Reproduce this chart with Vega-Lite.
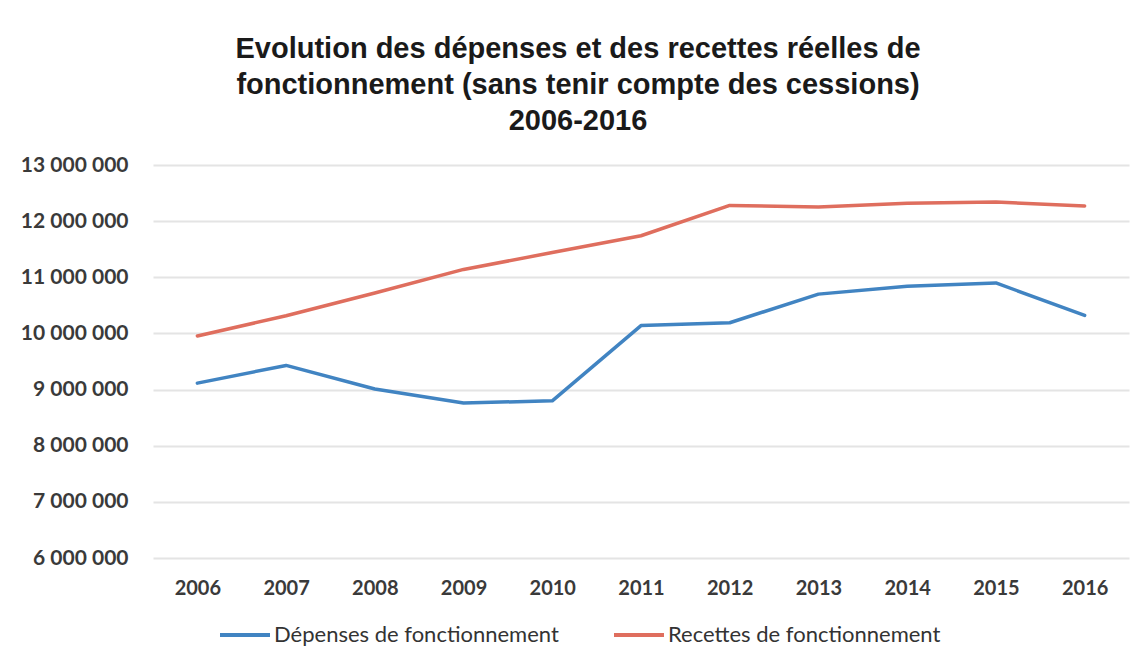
{
  "$schema": "https://vega.github.io/schema/vega-lite/v6.json",
  "autosize": {"type": "none"},
  "padding": {"left": 153, "top": 165, "right": 15, "bottom": 107},
  "width": 976,
  "height": 393,
  "background": "white",
  "title": {
    "text": ["Evolution des dépenses et des recettes réelles de", "fonctionnement (sans tenir compte des cessions)", "2006-2016"],
    "font": "Liberation Sans",
    "fontSize": 29,
    "fontWeight": "bold",
    "color": "#1a1a1a",
    "lineHeight": 36,
    "anchor": "middle",
    "dx": -63,
    "offset": 18
  },
  "data": {
    "values": [
      {"annee": "2006", "serie": "Dépenses de fonctionnement", "montant": 9115000},
      {"annee": "2007", "serie": "Dépenses de fonctionnement", "montant": 9430000},
      {"annee": "2008", "serie": "Dépenses de fonctionnement", "montant": 9010000},
      {"annee": "2009", "serie": "Dépenses de fonctionnement", "montant": 8760000},
      {"annee": "2010", "serie": "Dépenses de fonctionnement", "montant": 8800000},
      {"annee": "2011", "serie": "Dépenses de fonctionnement", "montant": 10140000},
      {"annee": "2012", "serie": "Dépenses de fonctionnement", "montant": 10190000},
      {"annee": "2013", "serie": "Dépenses de fonctionnement", "montant": 10700000},
      {"annee": "2014", "serie": "Dépenses de fonctionnement", "montant": 10840000},
      {"annee": "2015", "serie": "Dépenses de fonctionnement", "montant": 10900000},
      {"annee": "2016", "serie": "Dépenses de fonctionnement", "montant": 10320000},
      {"annee": "2006", "serie": "Recettes de fonctionnement", "montant": 9955000},
      {"annee": "2007", "serie": "Recettes de fonctionnement", "montant": 10315000},
      {"annee": "2008", "serie": "Recettes de fonctionnement", "montant": 10720000},
      {"annee": "2009", "serie": "Recettes de fonctionnement", "montant": 11140000},
      {"annee": "2010", "serie": "Recettes de fonctionnement", "montant": 11440000},
      {"annee": "2011", "serie": "Recettes de fonctionnement", "montant": 11740000},
      {"annee": "2012", "serie": "Recettes de fonctionnement", "montant": 12280000},
      {"annee": "2013", "serie": "Recettes de fonctionnement", "montant": 12250000},
      {"annee": "2014", "serie": "Recettes de fonctionnement", "montant": 12320000},
      {"annee": "2015", "serie": "Recettes de fonctionnement", "montant": 12340000},
      {"annee": "2016", "serie": "Recettes de fonctionnement", "montant": 12270000}
    ]
  },
  "mark": {"type": "line", "strokeWidth": 3.5, "strokeJoin": "round", "strokeCap": "round"},
  "encoding": {
    "x": {
      "field": "annee",
      "type": "ordinal",
      "scale": {"type": "point", "padding": 0.5},
      "axis": {
        "title": null,
        "labelAngle": 0,
        "domain": false,
        "ticks": false,
        "grid": false,
        "labelFont": "Lato",
        "labelFontSize": 20,
        "labelFontWeight": "bold",
        "labelColor": "#3a3a3a",
        "labelPadding": 20
      }
    },
    "y": {
      "field": "montant",
      "type": "quantitative",
      "scale": {"domain": [6000000, 13000000], "nice": false, "zero": false},
      "axis": {
        "title": null,
        "values": [6000000, 7000000, 8000000, 9000000, 10000000, 11000000, 12000000, 13000000],
        "format": ",d",
        "domain": false,
        "ticks": false,
        "grid": true,
        "gridColor": "#e4e4e4",
        "gridWidth": 2,
        "labelFont": "Lato",
        "labelFontSize": 21,
        "labelFontWeight": "bold",
        "labelColor": "#3a3a3a",
        "labelPadding": 25
      }
    },
    "color": {
      "field": "serie",
      "type": "nominal",
      "scale": {"domain": ["Dépenses de fonctionnement", "Recettes de fonctionnement"], "range": ["#4184c2", "#df6e5e"]},
      "legend": {
        "title": null,
        "orient": "none",
        "direction": "horizontal",
        "legendX": 65,
        "legendY": 443,
        "symbolType": "stroke",
        "symbolSize": 2500,
        "symbolStrokeWidth": 4,
        "labelFont": "Lato",
        "labelFontSize": 22,
        "labelColor": "#333333",
        "labelOffset": 2,
        "columnPadding": 47,
        "labelLimit": 400
      }
    }
  },
  "config": {
    "view": {"stroke": null},
    "locale": {
      "number": {"decimal": ",", "thousands": " ", "grouping": [3], "currency": ["", " €"]}
    }
  }
}
